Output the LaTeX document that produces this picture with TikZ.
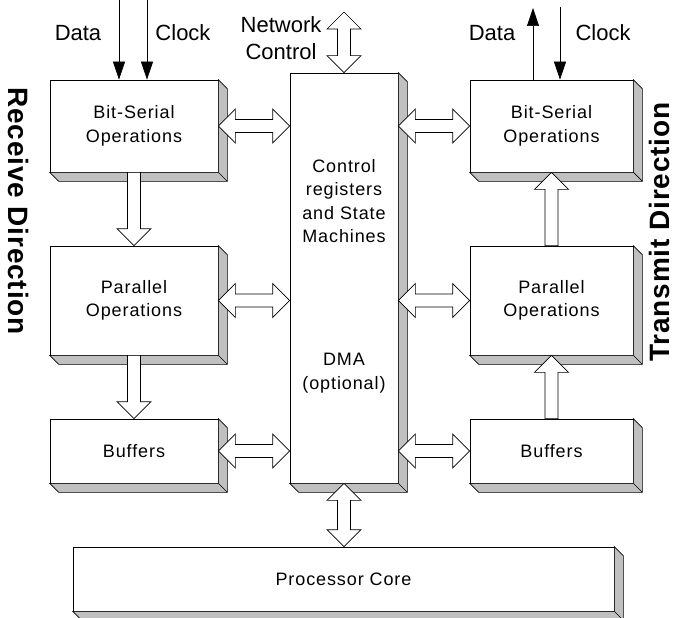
\documentclass[tikz,border=0pt]{standalone}
\usepackage{fontspec}
\setmainfont{Liberation Sans}
\newfontfamily\boxfont[LetterSpace=5]{Liberation Sans}
\newfontfamily\sidefont[LetterSpace=3]{Liberation Sans}
\usetikzlibrary{arrows.meta, calc}
\definecolor{extrude}{RGB}{192, 192, 192}

% hollow block arrows between two points
\newcommand{\dblarrow}[2]{%
  \coordinate (ba) at (#1);
  \coordinate (bb) at (#2);
  \coordinate (bq) at ($(ba)!17pt!(bb)$);
  \coordinate (bp) at ($(bb)!17pt!(ba)$);
  \draw[blockarrow] (ba) -- ($(bq)!17pt!90:(bb)$) -- ($(bq)!6.5pt!90:(bb)$)
    -- ($(bp)!6.5pt!90:(bb)$) -- ($(bp)!17pt!90:(bb)$) -- (bb)
    -- ($(bp)!17pt!-90:(bb)$) -- ($(bp)!6.5pt!-90:(bb)$)
    -- ($(bq)!6.5pt!-90:(bb)$) -- ($(bq)!17pt!-90:(bb)$) -- cycle;}
\newcommand{\onearrow}[2]{%
  \coordinate (ba) at (#1);
  \coordinate (bb) at (#2);
  \coordinate (bp) at ($(bb)!17pt!(ba)$);
  \draw[blockarrow] ($(ba)!6.5pt!90:(bb)$) -- ($(bp)!6.5pt!90:(bb)$)
    -- ($(bp)!17pt!90:(bb)$) -- (bb) -- ($(bp)!17pt!-90:(bb)$)
    -- ($(bp)!6.5pt!-90:(bb)$) -- ($(ba)!6.5pt!-90:(bb)$) -- cycle;}

\begin{document}
\begin{tikzpicture}[x=1pt, y=-1pt, line width=0.7pt,
    opbox/.style={draw, fill=white, inner sep=0pt, align=center,
      font=\boxfont\fontsize{18}{23.5}\selectfont},
    plain/.style={inner sep=0pt, align=center, font=\fontsize{18}{23.5}\selectfont\boxfont},
    label/.style={inner sep=0pt, align=center, font=\fontsize{22}{27}\selectfont},
    side/.style={inner sep=0pt, font=\sidefont\fontsize{28}{30}\selectfont\bfseries},
    blockarrow/.style={draw=black, fill=white, line width=0.7pt, line join=miter},
    signal/.style={-{Triangle[width=12pt, length=18pt]}}]
    \useasboundingbox (0,0) rectangle (675,618);

    % Receive side
    \node[opbox, minimum width=168pt, minimum height=92pt] (bs1) at (134,126) {Bit-Serial\\Operations};
    \node[opbox, minimum width=168pt, minimum height=109pt] (par1) at (134,300.5) {Parallel\\Operations};
    \node[opbox, minimum width=168pt, minimum height=64pt] (buf1) at (134,451) {Buffers};

    % Control (central)
    \node[opbox, minimum width=108pt, minimum height=410pt] (ctrl) at (344,278) {};
    \node[plain] (regs) at (344,201) {Control\\registers\\and State\\Machines};
    \node[plain] (dma) at (344,373) {DMA\\(optional)};

    % Transmit side
    \node[opbox, minimum width=163pt, minimum height=92pt] (bs2) at (551.5,126) {Bit-Serial\\Operations};
    \node[opbox, minimum width=163pt, minimum height=109pt] (par2) at (551.5,300.5) {Parallel\\Operations};
    \node[opbox, minimum width=163pt, minimum height=64pt] (buf2) at (551.5,451) {Buffers};

    % Processor
    \node[opbox, minimum width=541pt, minimum height=64pt] (core) at (343.5,579) {Processor Core};

    % Extruded sides
    \foreach \n in {bs1, par1, buf1, ctrl, bs2, par2, buf2, core} {
      \filldraw[fill=extrude] (\n.north east) -- ++(9,9) -- ($(\n.south east)+(9,9)$)
        -- ($(\n.south west)+(9,9)$) -- (\n.south west) -- (\n.south east) -- cycle;
      \draw (\n.south east) -- ++(9,9);
    }

    % Side titles
    \node[side, rotate=-90] (rx) at (19,211) {Receive Direction};
    \node[side, rotate=90] (tx) at (659,232) {Transmit Direction};

    % Serial lines
    \coordinate (dataL) at (119,0);
    \coordinate (clkL) at (147,0);
    \coordinate (dataR) at (533,8);
    \coordinate (clkR) at (560,7);
    \draw[signal] (dataL) -- (dataL |- bs1.north);
    \draw[signal] (clkL) -- (clkL |- bs1.north);
    \draw[signal] (dataR |- bs2.north) -- (dataR);
    \draw[signal] (clkR) -- (clkR |- bs2.north);
    \node[label] (dlab1) at (78,33) {Data};
    \node[label] (clab1) at (183,33) {Clock};
    \node[label] (dlab2) at (492,33) {Data};
    \node[label] (clab2) at (603,33) {Clock};
    \node[label] (net) at (281,38) {Network\\Control};

    % Block arrows
    \coordinate (netTop) at (344,12);
    \dblarrow{netTop}{ctrl.north}
    \onearrow{bs1.south}{par1.north}
    \onearrow{par1.south}{buf1.north}
    \onearrow{par2.north}{bs2.south}
    \onearrow{buf2.north}{par2.south}
    \dblarrow{bs1.east}{ctrl.west |- bs1.east}
    \dblarrow{par1.east}{ctrl.west |- par1.east}
    \dblarrow{buf1.east}{ctrl.west |- buf1.east}
    \dblarrow{ctrl.east |- bs2.west}{bs2.west}
    \dblarrow{ctrl.east |- par2.west}{par2.west}
    \dblarrow{ctrl.east |- buf2.west}{buf2.west}
    \dblarrow{ctrl.south}{ctrl.south |- core.north}
\end{tikzpicture}
\end{document}
